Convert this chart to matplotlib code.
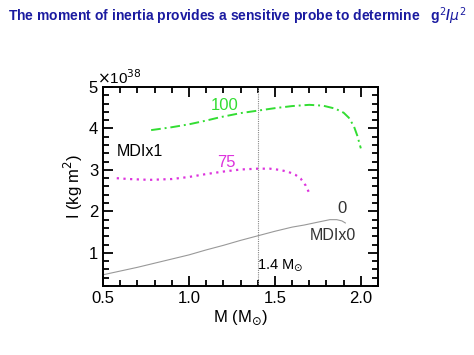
import numpy as np
import matplotlib.pyplot as plt

plt.rcParams['font.family'] = ['Liberation Sans', 'DejaVu Sans']

# curve data (M in solar masses, I in 1e38 kg m^2)
m_100 = [0.78, 0.90, 1.00, 1.10, 1.18, 1.30, 1.40, 1.50, 1.60, 1.70, 1.78, 1.85, 1.90, 1.93, 1.96, 1.98, 2.00]
i_100 = [3.96, 4.03, 4.10, 4.19, 4.27, 4.37, 4.43, 4.49, 4.54, 4.57, 4.55, 4.48, 4.38, 4.26, 4.05, 3.82, 3.52]

m_75 = [0.58, 0.65, 0.77, 0.90, 1.00, 1.10, 1.20, 1.30, 1.40, 1.47, 1.53, 1.58, 1.62, 1.65, 1.68, 1.70]
i_75 = [2.80, 2.78, 2.76, 2.78, 2.83, 2.90, 2.96, 3.01, 3.03, 3.03, 3.00, 2.95, 2.88, 2.79, 2.62, 2.44]

m_0 = [0.50, 0.60, 0.70, 0.80, 0.90, 1.00, 1.10, 1.20, 1.30, 1.40, 1.50, 1.60, 1.67, 1.75, 1.82, 1.86, 1.89, 1.91]
i_0 = [0.47, 0.56, 0.65, 0.75, 0.85, 0.95, 1.07, 1.18, 1.30, 1.41, 1.52, 1.62, 1.67, 1.74, 1.80, 1.80, 1.77, 1.72]

m_canon = 1.4

fig = plt.figure(figsize=(4.74, 3.55), dpi=100)
ax = fig.add_axes([0.2173, 0.1944, 0.5802, 0.5605])

ax.plot(m_100, i_100, color='#33dd33', lw=1.4, ls=(0, (5, 2, 1, 2)))
ax.plot(m_75, i_75, color='#dd33dd', lw=1.6, ls=(0, (1, 2)))
ax.plot(m_0, i_0, color='#999999', lw=0.8)
ax.axvline(m_canon, color='#888888', lw=0.8, ls=(0, (1, 1)))

ax.text(1.21, 4.55, '100', color='#33dd33', fontsize=12, ha='center', va='center')
ax.text(1.22, 3.18, '75', color='#dd33dd', fontsize=12, ha='center', va='center')
ax.text(1.89, 2.08, '0', color='#333333', fontsize=12, ha='center', va='center')
ax.text(1.84, 1.43, 'MDIx0', color='#333333', fontsize=11.5, ha='center', va='center')
ax.text(0.715, 3.44, 'MDIx1', color='black', fontsize=11.5, ha='center', va='center')
ax.text(1.53, 0.71, r'1.4 M$_{\odot}$', color='black', fontsize=10.5, ha='center', va='center')
ax.text(-0.02, 1.0, r'$\times$10$^{38}$', transform=ax.transAxes, fontsize=11,
        ha='left', va='bottom')

ax.set_xlim(0.5, 2.1)
ax.set_ylim(0.2, 5)
ax.set_xticks([0.5, 1.0, 1.5, 2.0])
ax.set_xticklabels(['0.5', '1.0', '1.5', '2.0'])
ax.set_xticks(np.arange(0.5, 2.11, 0.1), minor=True)
ax.set_yticks([1, 2, 3, 4, 5])
ax.set_yticks(np.arange(0.2, 5.01, 0.2), minor=True)
ax.tick_params(which='both', direction='in', top=True, right=True, labelsize=12, width=1.3)
ax.tick_params(which='major', length=7)
ax.tick_params(which='minor', length=4)
for sp in ax.spines.values():
    sp.set_linewidth(1.4)

ax.set_xlabel(r'M (M$_{\odot}$)', fontsize=12, labelpad=2)
ax.set_ylabel(r'I (kg m$^2$)', fontsize=12, labelpad=3)

fig.text(0.5, 0.955, r'The moment of inertia provides a sensitive probe to determine   g$^2$/$\mu^2$',
         ha='center', va='center', fontsize=10, fontweight='bold', color='#1a1aa0')

fig.savefig('out.png', dpi=100)
